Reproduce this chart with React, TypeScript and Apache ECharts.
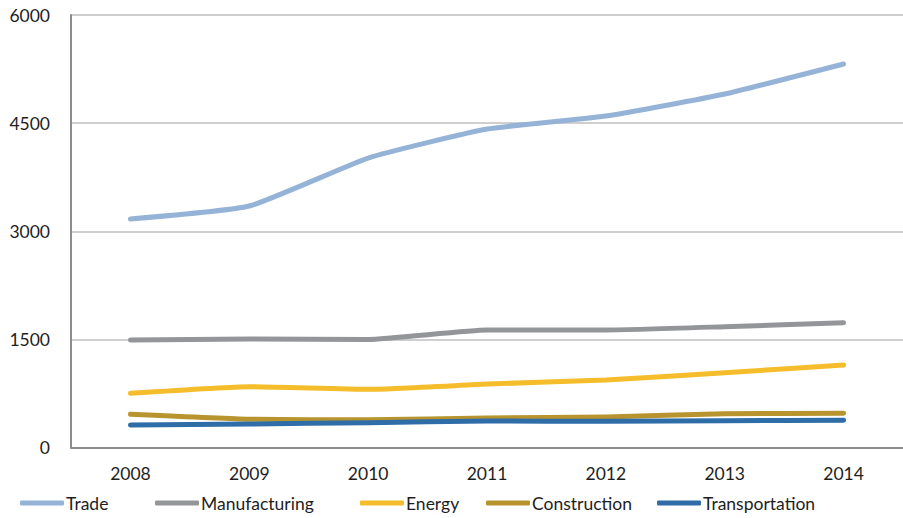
import React, { useEffect, useRef } from "react";
import * as echarts from "echarts";

const years = ["2008", "2009", "2010", "2011", "2012", "2013", "2014"];
const trade = [3170, 3350, 4016, 4418, 4598, 4904, 5320];
const manufacturing = [1491, 1505, 1500, 1630, 1630, 1676, 1731];
const energy = [752, 844, 807, 880, 936, 1038, 1144];
const construction = [460, 391, 386, 409, 423, 469, 474];
const transportation = [312, 326, 344, 367, 363, 372, 377];
const yTicks = [0, 1500, 3000, 4500, 6000];

const seriesDefs = [
  { name: "Trade", data: trade, color: "#95B3D7", legendLeft: 20 },
  { name: "Manufacturing", data: manufacturing, color: "#939598", legendLeft: 155 },
  { name: "Energy", data: energy, color: "#F5BD2B", legendLeft: 360 },
  { name: "Construction", data: construction, color: "#B8942F", legendLeft: 486 },
  { name: "Transportation", data: transportation, color: "#2E6DA8", legendLeft: 657 },
];

const FONT = "Lato";

export default function App() {
  const ref = useRef<HTMLDivElement>(null);

  useEffect(() => {
    if (!ref.current) return;
    const chart = echarts.init(ref.current, null, { renderer: "svg" });
    chart.setOption({
      animation: false,
      backgroundColor: "#ffffff",
      textStyle: { fontFamily: FONT },
      grid: { left: 71, top: 15, width: 838, height: 432.5, containLabel: false },
      legend: seriesDefs.map((s) => ({
        data: [s.name],
        left: s.legendLeft,
        top: 494,
        icon: "roundRect",
        itemWidth: 44,
        itemHeight: 5,
        itemGap: 0,
        padding: 0,
        selectedMode: false,
        textStyle: { fontFamily: FONT, fontSize: 17.5, color: "#1e1e1e", padding: [0, 0, 0, -3] },
      })),
      xAxis: {
        type: "category",
        data: years,
        boundaryGap: true,
        axisLine: { show: true, lineStyle: { color: "#8C8C8C", width: 2 } },
        axisTick: { show: false },
        axisLabel: { fontFamily: FONT, fontSize: 17.5, color: "#1e1e1e", margin: 17 },
      },
      yAxis: {
        type: "value",
        min: yTicks[0],
        max: yTicks[yTicks.length - 1],
        interval: 1500,
        axisLine: { show: true, lineStyle: { color: "#8C8C8C", width: 2 } },
        axisTick: { show: false },
        axisLabel: {
          fontFamily: FONT,
          fontSize: 17.5,
          color: "#1e1e1e",
          margin: 21,
          formatter: (v: number) => String(v),
        },
        splitLine: { show: true, lineStyle: { color: "#BFBFBF", width: 1.5 } },
      },
      series: seriesDefs.map((s) => ({
        name: s.name,
        type: "line",
        data: s.data,
        smooth: 0.15,
        symbol: "none",
        lineStyle: { color: s.color, width: 5, cap: "round", join: "round" },
        itemStyle: { color: s.color },
      })),
    });
    return () => chart.dispose();
  }, []);

  return (
    <div
      ref={ref}
      style={{ width: 903, height: 518, position: "absolute", left: 0, top: 0 }}
    />
  );
}
